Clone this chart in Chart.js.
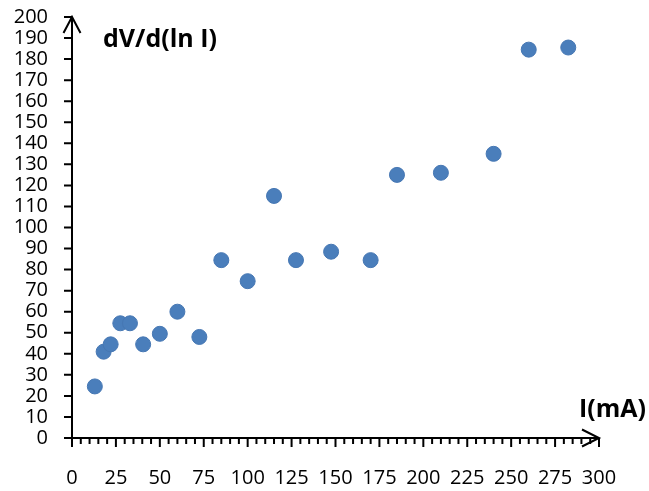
<!DOCTYPE html>
<html>
<head>
<meta charset="utf-8">
<script src="https://cdn.jsdelivr.net/npm/chart.js@4.4.0/dist/chart.umd.min.js"></script>
<style>
  html, body { margin: 0; padding: 0; background: #fff; }
  #wrap { width: 649px; height: 491px; }
</style>
</head>
<body>
<div id="wrap"><canvas id="chart" width="649" height="491"></canvas></div>
<script>
// current I (mA) and dV/d(ln I)
const currentMA = [13, 18, 22, 27.5, 33, 40.5, 50, 60, 72.5, 85, 100, 115, 127.5, 147.5, 170, 185, 210, 240, 260, 282.5];
const dVdLnI = [24.5, 41, 44.5, 54.5, 54.5, 44.5, 49.5, 60, 48, 84.5, 74.5, 115, 84.5, 88.5, 84.5, 125, 126, 135, 184.5, 185.5];

const xRange = [0, 300];
const yRange = [0, 200];
const xMajorStep = 25;
const xMinorStep = 5;
const yStep = 10;

const xTitle = 'I(mA)';
const yTitle = 'dV/d(ln I)';

const FONT = '"Open Sans", "Liberation Sans", sans-serif';

// axis lines with arrowheads, tick marks and the two axis titles
const axisDecor = {
  id: 'axisDecor',
  afterDraw(chart) {
    const { ctx, scales: { x, y } } = chart;
    const x0 = x.getPixelForValue(xRange[0]);
    const x1 = x.getPixelForValue(xRange[1]);
    const y0 = y.getPixelForValue(yRange[0]);
    const y1 = y.getPixelForValue(yRange[1]);

    ctx.save();
    ctx.strokeStyle = '#000';
    ctx.lineWidth = 2;

    ctx.beginPath();
    ctx.moveTo(x0, y0 + 1);
    ctx.lineTo(x0, y1);
    ctx.moveTo(x0 - 1, y0);
    ctx.lineTo(x1, y0);

    // y ticks point left
    for (let v = yRange[0]; v <= yRange[1]; v += yStep) {
      const py = y.getPixelForValue(v);
      ctx.moveTo(x0 - 8, py);
      ctx.lineTo(x0, py);
    }
    // x ticks point down, longer on the labelled ones
    for (let v = xRange[0]; v <= xRange[1]; v += xMinorStep) {
      const px = x.getPixelForValue(v);
      const len = v % xMajorStep === 0 ? 9 : 6;
      ctx.moveTo(px, y0);
      ctx.lineTo(px, y0 + len);
    }
    ctx.stroke();

    // open arrowheads
    ctx.beginPath();
    ctx.moveTo(x0 - 8.5, y1 + 16);
    ctx.lineTo(x0, y1);
    ctx.lineTo(x0 + 8.5, y1 + 16);
    ctx.moveTo(x1 - 17, y0 - 8.5);
    ctx.lineTo(x1, y0);
    ctx.lineTo(x1 - 17, y0 + 8.5);
    ctx.stroke();

    ctx.fillStyle = '#000';
    ctx.font = 'bold 25px ' + FONT;
    ctx.textBaseline = 'alphabetic';
    ctx.textAlign = 'left';
    ctx.fillText(yTitle, 103, 47);
    ctx.fillText(xTitle, 579, 417);
    ctx.restore();
  }
};

new Chart(document.getElementById('chart'), {
  type: 'scatter',
  data: {
    datasets: [{
      data: currentMA.map((v, i) => ({ x: v, y: dVdLnI[i] })),
      backgroundColor: '#4a7ebb',
      borderColor: '#4677b3',
      borderWidth: 1,
      pointRadius: 7.5,
      pointHoverRadius: 7.5
    }]
  },
  options: {
    responsive: false,
    animation: false,
    devicePixelRatio: 1,
    layout: { padding: { top: 17, right: 50, left: 0, bottom: 0 } },
    plugins: {
      legend: { display: false },
      tooltip: { enabled: false }
    },
    scales: {
      x: {
        type: 'linear',
        min: xRange[0],
        max: xRange[1],
        grid: { display: false, drawTicks: false },
        border: { display: false },
        ticks: {
          stepSize: xMajorStep,
          autoSkip: false,
          maxRotation: 0,
          padding: 28,
          color: '#000',
          font: { family: FONT, size: 20 }
        },
        afterFit(scale) {
          scale.height = 53;
          scale.paddingLeft = 0;
          scale.paddingRight = 0;
        }
      },
      y: {
        min: yRange[0],
        max: yRange[1],
        grid: { display: false, drawTicks: false },
        border: { display: false },
        ticks: {
          stepSize: yStep,
          autoSkip: false,
          padding: 24,
          color: '#000',
          font: { family: FONT, size: 20 }
        },
        afterFit(scale) {
          scale.width = 72;
          scale.paddingTop = 0;
          scale.paddingBottom = 0;
        }
      }
    }
  },
  plugins: [axisDecor]
});
</script>
</body>
</html>
